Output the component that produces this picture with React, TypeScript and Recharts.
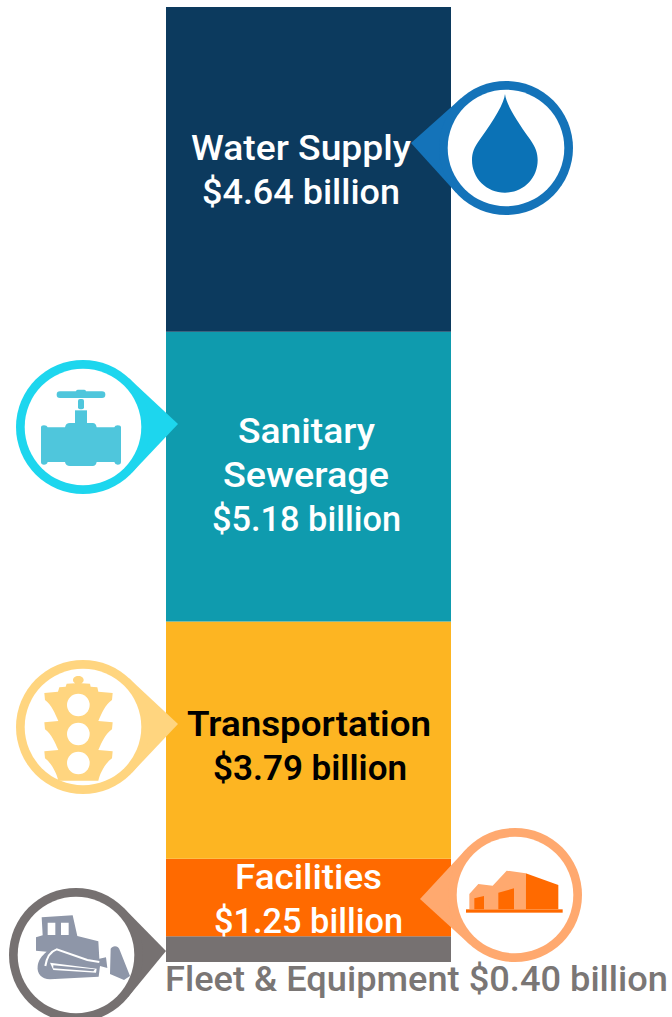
import React from "react";
import { BarChart, Bar, XAxis, YAxis, LabelList } from "recharts";

// Segment sizes (the drawn blocks), bottom of the stack first.
const categories = ["Program"];
const seriesNames = ["Fleet & Equipment", "Facilities", "Transportation", "Sanitary Sewerage", "Water Supply"];
const segmentSizes = [0.41, 1.24, 3.79, 4.63, 5.19];
const seriesKeys = ["fleet", "facilities", "transportation", "sewerage", "water"];
const segmentColors = ["#767171", "#FF6A00", "#FDB522", "#0F9BAE", "#0C3A5E"];
const labelLines = [
  ["Fleet & Equipment $0.40 billion"],
  ["Facilities", "$1.25 billion"],
  ["Transportation", "$3.79 billion"],
  ["Sanitary", "Sewerage", "$5.18 billion"],
  ["Water Supply", "$4.64 billion"],
];

const chartData = categories.map((c) => {
  const row: Record<string, string | number> = { category: c };
  seriesKeys.forEach((k, i) => (row[k] = segmentSizes[i]));
  return row;
});

// Text layout only: left edge / width of every line, first baseline relative to segment top, line gap.
const labelLayout = [
  { fill: "#7A7675", weight: 500, size: 35, top: 55, gap: 0, lines: [[165, 503]] },
  { fill: "#FFFFFF", weight: 500, size: 35, top: 30, gap: 44, lines: [[235, 147], [214, 189]] },
  { fill: "#000000", weight: 600, size: 35, top: 114, gap: 44, lines: [[187, 244], [213, 194]] },
  { fill: "#FFFFFF", weight: 500, size: 35, top: 110.7, gap: 44.2, lines: [[238, 137], [223, 166], [212, 189]] },
  { fill: "#FFFFFF", weight: 500, size: 35, top: 152.5, gap: 44, lines: [[191, 220], [202, 198]] },
];

const segmentLabel = (index: number) => (props: any) => {
  const l = labelLayout[index];
  const y0 = Number(props.y);
  return (
    <g>
      {labelLines[index].map((line, i) => (
        <text
          key={line}
          x={l.lines[i][0]}
          y={y0 + l.top + i * l.gap}
          textLength={l.lines[i][1]}
          lengthAdjust="spacingAndGlyphs"
          fontFamily="Roboto, sans-serif"
          fontSize={l.size}
          fontWeight={l.weight}
          fill={l.fill}
        >
          {line}
        </text>
      ))}
    </g>
  );
};

// A map-pin style callout: ring, and a pointer towards the tip.
const Pin = ({ cx, cy, tx, ty, color, children }: any) => {
  const R = 67;
  const d = Math.hypot(tx - cx, ty - cy);
  const a = Math.atan2(ty - cy, tx - cx);
  const b = Math.acos(R / d);
  const p1 = [cx + R * Math.cos(a + b), cy + R * Math.sin(a + b)];
  const p2 = [cx + R * Math.cos(a - b), cy + R * Math.sin(a - b)];
  return (
    <g>
      <polygon points={`${tx},${ty} ${p1[0]},${p1[1]} ${p2[0]},${p2[1]}`} fill={color} />
      <circle cx={cx} cy={cy} r={R} fill={color} />
      <circle cx={cx} cy={cy} r={58.3} fill="#FFFFFF" />
      {children}
    </g>
  );
};

const Icons = () => (
  <svg width={672} height={1017} style={{ position: "absolute", left: 0, top: 0, pointerEvents: "none" }}>
    <Pin cx={506} cy={148} tx={411} ty={143} color="#1473B9">
      <g transform="translate(400,60) scale(0.33333)">
        <path
          d="M315 102 C312 130 285 175 240 238 C222 262 216 280 216 300 C216 355 260 398 315 398 C370 398 413 355 413 300 C413 280 407 262 390 238 C345 175 318 130 315 102 Z"
          fill="#0B72B6"
        />
      </g>
    </Pin>
    <Pin cx={83} cy={427} tx={178} ty={424} color="#1DD6EE">
      <g transform="translate(0,350) scale(0.33333)" fill="#4FC6DC">
        <rect x={170} y={124} width={146} height={20} rx={10} />
        <rect x={228} y={119} width={30} height={10} rx={5} />
        <rect x={234} y={147} width={18} height={31} rx={6} />
        <rect x={225} y={181} width={36} height={38} />
        <path d="M123 232 Q123 226 132 226 Q141 226 143 232 L195 232 Q197 219 210 219 L278 219 Q288 219 290 232 L343 232 Q345 226 353 226 Q363 226 363 232 L363 336 Q363 344 353 344 Q345 344 343 336 L290 336 Q288 348 278 348 L210 348 Q197 348 195 336 L143 336 Q141 344 132 344 Q123 344 123 336 Z" />
      </g>
    </Pin>
    <Pin cx={83} cy={727} tx={178} ty={724} color="#FFD57F">
      <g transform="translate(0,650) scale(0.33333)">
        <path
          fill="#FFD57F"
          d="M235 78 C225 78 219 84 219 90 C219 95 222 98 226 100 L200 101 L197 110 L178 112 L174 125 L133 129 L135 150 C155 165 165 190 175 213 L133 217 L135 238 C155 253 165 278 175 300 L133 304 L135 325 C155 340 170 370 175 392 L295 392 C300 370 315 340 336 325 L338 304 L295 300 C305 278 315 253 336 238 L338 217 L295 213 C305 190 315 165 336 150 L338 129 L295 125 L292 112 L272 110 L270 101 L244 100 C248 98 251 95 251 90 C251 84 245 78 235 78 Z"
        />
        <circle cx={235} cy={165} r={34} fill="#FFFFFF" />
        <circle cx={235} cy={252} r={34} fill="#FFFFFF" />
        <circle cx={235} cy={339} r={34} fill="#FFFFFF" />
      </g>
    </Pin>
    <Pin cx={515} cy={895} tx={420} ty={899} color="#FFA96F">
      <g transform="translate(410,820) scale(0.33333)">
        <path d="M178 268 L178 222 L205 192 L248 197 L290 152 L347 160 L347 268 Z" fill="#FFA96F" />
        <path d="M347 160 L445 195 L445 268 L347 268 Z" fill="#FF6A00" />
        <path d="M193 235 L222 228 L222 268 L193 268 Z" fill="#FF6A00" />
        <path d="M265 218 L312 205 L312 268 L265 268 Z" fill="#FF6A00" />
        <rect x={168} y={268} width={290} height={10} fill="#FF6A00" />
      </g>
    </Pin>
    <Pin cx={76} cy={955} tx={166} ty={951} color="#767171">
      <g transform="translate(0,880) scale(0.33333)">
        <path
          fill="#8E96A8"
          fillRule="evenodd"
          d="M125 112 L218 106 L232 168 L295 184 L298 236 L318 232 L322 264 L300 258 L296 290 L150 298 C125 298 110 280 113 258 C115 240 125 228 140 215 L108 212 L108 172 L128 166 Z M143 128 L143 165 L166 165 L166 128 Z M183 128 L183 165 L206 165 L206 128 Z"
        />
        <path d="M136 258 C140 232 152 214 170 208 L262 240 L298 246" fill="none" stroke="#FFFFFF" strokeWidth={6} />
        <path d="M150 248 L290 266 L288 278 L160 270 Z" fill="#FFFFFF" />
        <path d="M160 256 L285 268 L280 274 L160 265 Z" fill="#8E96A8" />
        <path d="M332 206 C338 195 356 195 360 212 L390 288 L372 300 L330 282 Z" fill="#8E96A8" />
      </g>
    </Pin>
  </svg>
);

export default function App() {
  return (
    <div style={{ position: "absolute", left: 0, top: 0, width: 672, height: 1017 }}>
      <BarChart
        width={672}
        height={1017}
        data={chartData}
        margin={{ top: 7, right: 221, bottom: 55, left: 166 }}
        barCategoryGap={0}
      >
        <XAxis dataKey="category" hide />
        <YAxis hide domain={[0, 15.26]} />
        {seriesKeys.map((k, i) => (
          <Bar key={k} dataKey={k} name={seriesNames[i]} stackId="total" fill={segmentColors[i]} isAnimationActive={false}>
            <LabelList dataKey={k} content={segmentLabel(i)} />
          </Bar>
        ))}
      </BarChart>
      <Icons />
    </div>
  );
}
